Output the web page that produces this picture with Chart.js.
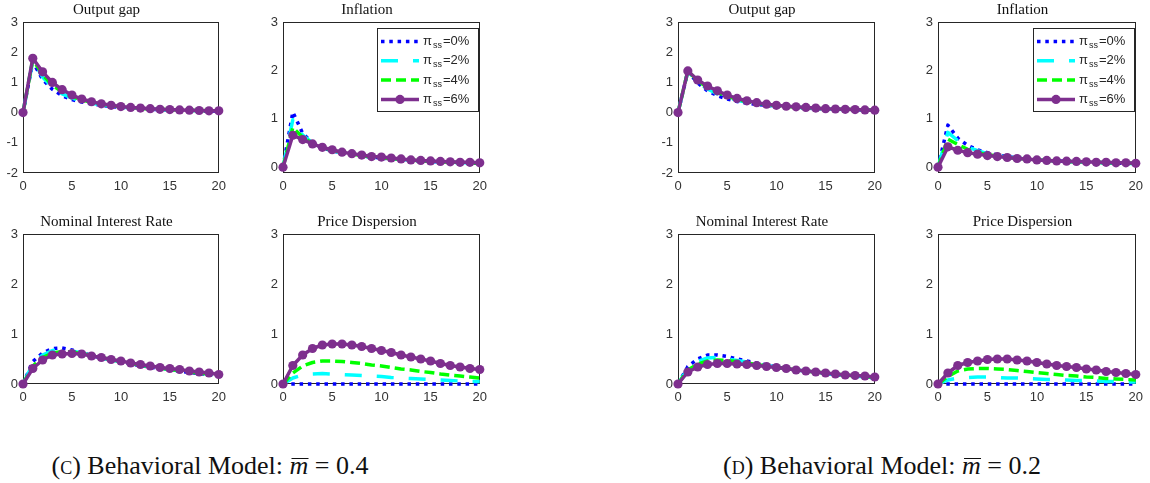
<!DOCTYPE html>
<html><head><meta charset="utf-8">
<script src="https://cdn.jsdelivr.net/npm/chart.js@4.4.0/dist/chart.umd.min.js"></script>
<style>
html,body{margin:0;padding:0;background:#fff}
body{width:1150px;height:483px;position:relative;overflow:hidden}
canvas{position:absolute}
.cap{position:absolute;font-family:"Liberation Serif","Times New Roman",serif;font-size:26px;line-height:30px;color:#111;white-space:nowrap;transform:translateX(-50%)}
.sc{font-variant:small-caps}
.mb{position:relative;font-style:italic}
.mb::before{content:'';position:absolute;left:2px;right:0;top:7px;border-top:1.5px solid #111}
</style></head><body>
<div class="cap" style="left:210px;top:451px">(<span class="sc">c</span>) Behavioral Model: <span class="mb">m</span> = 0.4</div>
<div class="cap" style="left:882px;top:451px">(<span class="sc">d</span>) Behavioral Model: <span class="mb">m</span> = 0.2</div>
<script>
// horizon and ticks
const xs=[0,1,2,3,4,5,6,7,8,9,10,11,12,13,14,15,16,17,18,19,20];
const xTicks=[0,5,10,15,20];
const yTicksOut=[-2,-1,0,1,2,3];
const yTicks=[0,1,2,3];
const rates=['0%','2%','4%','6%'];
const titles=['Output gap','Inflation','Nominal Interest Rate','Price Dispersion'];

// (C) m = 0.4
const outC0=[0,1.68,1.10,0.77,0.56,0.43,0.35,0.29,0.24,0.20,0.17,0.15,0.13,0.11,0.10,0.09,0.08,0.07,0.06,0.05,0.05];
const outC2=[0,1.72,1.18,0.84,0.62,0.48,0.38,0.31,0.26,0.21,0.18,0.16,0.14,0.12,0.10,0.09,0.08,0.07,0.06,0.05,0.05];
const outC4=[0,1.76,1.26,0.91,0.68,0.53,0.42,0.34,0.28,0.23,0.19,0.17,0.14,0.12,0.11,0.10,0.09,0.08,0.07,0.06,0.05];
const outC6=[0,1.80,1.35,1.00,0.76,0.58,0.45,0.36,0.29,0.24,0.20,0.17,0.15,0.13,0.11,0.10,0.09,0.08,0.07,0.06,0.06];
const infC0=[0,1.14,0.70,0.50,0.40,0.34,0.29,0.26,0.23,0.21,0.19,0.17,0.15,0.14,0.13,0.12,0.11,0.10,0.09,0.08,0.08];
const infC2=[0,0.98,0.66,0.50,0.40,0.34,0.30,0.26,0.23,0.21,0.19,0.17,0.16,0.14,0.13,0.12,0.11,0.10,0.09,0.09,0.08];
const infC4=[0,0.82,0.62,0.49,0.41,0.35,0.30,0.27,0.24,0.21,0.19,0.18,0.16,0.15,0.13,0.12,0.11,0.10,0.10,0.09,0.08];
const infC6=[0,0.66,0.57,0.48,0.41,0.36,0.31,0.28,0.25,0.22,0.21,0.19,0.17,0.15,0.14,0.13,0.12,0.11,0.10,0.10,0.09];
const nomC0=[0,0.45,0.62,0.71,0.72,0.68,0.63,0.57,0.52,0.48,0.44,0.40,0.37,0.34,0.31,0.28,0.26,0.23,0.21,0.19,0.17];
const nomC2=[0,0.40,0.58,0.67,0.68,0.66,0.62,0.57,0.52,0.48,0.44,0.41,0.38,0.34,0.31,0.29,0.26,0.24,0.22,0.20,0.17];
const nomC4=[0,0.36,0.53,0.62,0.65,0.64,0.61,0.57,0.53,0.49,0.45,0.41,0.38,0.35,0.32,0.29,0.27,0.24,0.22,0.20,0.18];
const nomC6=[0,0.31,0.48,0.58,0.60,0.61,0.60,0.56,0.53,0.49,0.46,0.42,0.39,0.36,0.33,0.31,0.29,0.26,0.24,0.22,0.19];
const pdC0=[0,0,0,0,0,0,0,0,0,0,0,0,0,0,0,0,0,0,0,0,0];
const pdC2=[0,0.12,0.18,0.20,0.21,0.20,0.19,0.18,0.17,0.16,0.15,0.13,0.12,0.11,0.10,0.09,0.08,0.07,0.06,0.05,0.05];
const pdC4=[0,0.22,0.36,0.43,0.46,0.46,0.45,0.43,0.41,0.38,0.36,0.33,0.30,0.28,0.25,0.23,0.20,0.18,0.16,0.14,0.12];
const pdC6=[0,0.37,0.58,0.71,0.78,0.80,0.80,0.78,0.75,0.71,0.67,0.63,0.58,0.54,0.50,0.46,0.41,0.37,0.34,0.31,0.29];

// (D) m = 0.2
const outD0=[0,1.36,0.98,0.72,0.56,0.45,0.37,0.31,0.27,0.24,0.21,0.19,0.17,0.15,0.13,0.12,0.11,0.10,0.09,0.08,0.07];
const outD2=[0,1.37,1.02,0.78,0.62,0.50,0.41,0.34,0.29,0.25,0.22,0.20,0.18,0.16,0.14,0.12,0.11,0.10,0.09,0.08,0.08];
const outD4=[0,1.38,1.05,0.83,0.67,0.54,0.44,0.37,0.31,0.27,0.23,0.21,0.18,0.16,0.14,0.13,0.12,0.11,0.10,0.09,0.08];
const outD6=[0,1.38,1.08,0.88,0.72,0.58,0.47,0.39,0.33,0.28,0.24,0.21,0.19,0.17,0.15,0.13,0.12,0.11,0.10,0.09,0.08];
const infD0=[0,0.87,0.60,0.45,0.36,0.30,0.25,0.22,0.19,0.17,0.15,0.14,0.13,0.12,0.11,0.10,0.09,0.09,0.08,0.08,0.07];
const infD2=[0,0.72,0.55,0.42,0.34,0.28,0.24,0.21,0.19,0.17,0.15,0.14,0.13,0.12,0.11,0.10,0.10,0.09,0.08,0.08,0.07];
const infD4=[0,0.58,0.47,0.37,0.30,0.26,0.23,0.20,0.18,0.17,0.15,0.14,0.13,0.12,0.11,0.11,0.10,0.09,0.09,0.08,0.08];
const infD6=[0,0.42,0.35,0.30,0.27,0.24,0.22,0.20,0.18,0.17,0.15,0.14,0.13,0.125,0.12,0.11,0.10,0.10,0.09,0.09,0.08];
const nomD0=[0,0.35,0.50,0.58,0.58,0.55,0.50,0.46,0.42,0.38,0.34,0.31,0.28,0.26,0.24,0.21,0.19,0.17,0.15,0.14,0.12];
const nomD2=[0,0.31,0.45,0.52,0.53,0.50,0.47,0.44,0.40,0.37,0.34,0.31,0.28,0.26,0.24,0.21,0.19,0.18,0.16,0.14,0.13];
const nomD4=[0,0.28,0.40,0.46,0.48,0.47,0.45,0.42,0.39,0.36,0.33,0.31,0.28,0.26,0.24,0.22,0.20,0.18,0.16,0.15,0.13];
const nomD6=[0,0.24,0.34,0.39,0.41,0.41,0.40,0.39,0.37,0.35,0.33,0.31,0.28,0.26,0.24,0.22,0.20,0.18,0.17,0.16,0.14];
const pdD0=[0,0,0,0,0,0,0,0,0,0,0,0,0,0,0,0,0,0,0,0,0];
const pdD2=[0,0.08,0.12,0.13,0.14,0.14,0.13,0.12,0.12,0.11,0.10,0.09,0.09,0.08,0.07,0.07,0.06,0.05,0.05,0.04,0.04];
const pdD4=[0,0.15,0.26,0.30,0.31,0.31,0.30,0.29,0.27,0.25,0.23,0.21,0.19,0.17,0.16,0.14,0.13,0.11,0.10,0.09,0.08];
const pdD6=[0,0.22,0.37,0.43,0.46,0.49,0.50,0.50,0.48,0.46,0.43,0.40,0.37,0.35,0.33,0.30,0.28,0.25,0.23,0.21,0.19];

// styles
const COL=['#0000ff','#00ffff','#00ff00','#7e2f8e'];
const DASH=[[3.5,4.8],[17,15],[10,5],[]];
const LW=3.5, PR=4.6;
const AX='#262626', TK='#333333';
const YW=30, XH=25, RP=12, TH=23;
const LEG_W=101, LEG_H=83;

const panels=[
 {L:23,T:22,W:197,H:151,t:0,ymin:-2,yt:yTicksOut,s:[outC0,outC2,outC4,outC6]},
 {L:283,T:22,W:198,H:151,t:1,ymin:-0.12,yt:yTicks,s:[infC0,infC2,infC4,infC6],leg:true},
 {L:23,T:234,W:197,H:150,t:2,ymin:0,yt:yTicks,s:[nomC0,nomC2,nomC4,nomC6]},
 {L:283,T:234,W:198,H:150,t:3,ymin:0,yt:yTicks,s:[pdC0,pdC2,pdC4,pdC6]},
 {L:678,T:22,W:198,H:151,t:0,ymin:-2,yt:yTicksOut,s:[outD0,outD2,outD4,outD6]},
 {L:938,T:22,W:199,H:151,t:1,ymin:-0.12,yt:yTicks,s:[infD0,infD2,infD4,infD6],leg:true},
 {L:678,T:234,W:198,H:150,t:2,ymin:0,yt:yTicks,s:[nomD0,nomD2,nomD4,nomD6]},
 {L:938,T:234,W:199,H:150,t:3,ymin:0,yt:yTicks,s:[pdD0,pdD2,pdD4,pdD6]}
];

// axes box under the data (like MATLAB)
const boxPlugin={id:'axbox',beforeDatasetsDraw(c){
 const a=c.chartArea,x=c.ctx;
 x.save();x.strokeStyle=AX;x.lineWidth=1;
 x.strokeRect(Math.round(a.left)+0.5,Math.round(a.top)+0.5,Math.round(a.width)-1,Math.round(a.height)-1);
 x.restore();
}};

// legend with pi_ss subscript
const legPlugin={id:'pilegend',afterDatasetsDraw(c,args,o){
 if(!o.show)return;
 const a=c.chartArea,x=c.ctx;
 const bx=Math.round(a.right-2-LEG_W),by=Math.round(a.top+6);
 x.save();
 x.fillStyle='#fff';x.fillRect(bx,by,LEG_W,LEG_H);
 x.strokeStyle=AX;x.lineWidth=1;x.strokeRect(bx+0.5,by+0.5,LEG_W,LEG_H);
 c.data.datasets.forEach(function(d,i){
  var y=by+13.5+i*19.3,x0=bx+4,x1=bx+42;
  x.strokeStyle=d.borderColor;x.lineWidth=d.borderWidth;x.setLineDash(d.borderDash||[]);
  x.lineCap='butt';x.beginPath();x.moveTo(x0,y);x.lineTo(x1,y);x.stroke();x.setLineDash([]);
  if(d.pointRadius>0){x.fillStyle=d.borderColor;x.beginPath();x.arc((x0+x1)/2,y,d.pointRadius,0,Math.PI*2);x.fill()}
  x.fillStyle=AX;x.textBaseline='middle';x.textAlign='left';
  var tx=bx+46;
  x.font='13px "Liberation Sans", Arial, sans-serif';x.fillText('π',tx,y);tx+=x.measureText('π').width+1;
  x.font='9px "Liberation Sans", Arial, sans-serif';x.fillText('ss',tx,y+4);tx+=x.measureText('ss').width+1;
  x.font='13px "Liberation Sans", Arial, sans-serif';x.fillText('='+d.label,tx,y);
 });
 x.restore();
}};

function mk(p){
 var cv=document.createElement('canvas');
 var w=YW+p.W+RP,h=TH+p.H+XH;
 cv.width=w;cv.height=h;cv.style.width=w+'px';cv.style.height=h+'px';
 cv.style.left=(p.L-YW)+'px';cv.style.top=(p.T-TH)+'px';
 document.body.appendChild(cv);
 var ds=p.s.map(function(v,i){return{
  label:rates[i],data:xs.map(function(xv,j){return{x:xv,y:v[j]}}),
  borderColor:COL[i],backgroundColor:COL[i],borderWidth:LW,borderDash:DASH[i],borderCapStyle:'butt',borderJoinStyle:'round',
  pointRadius:i===3?PR:0,pointBackgroundColor:COL[i],pointBorderWidth:0,pointHoverRadius:0,
  tension:0,fill:false,clip:false,order:3-i}});
 var tf={family:'"Liberation Sans", Arial, sans-serif',size:13};
 new Chart(cv.getContext('2d'),{type:'line',data:{datasets:ds},
  options:{responsive:false,animation:false,events:[],devicePixelRatio:1,
   layout:{padding:{left:0,right:RP,top:0,bottom:0}},
   plugins:{legend:{display:false},tooltip:{enabled:false},
    title:{display:true,text:titles[p.t],color:'#111',font:{family:'"Liberation Serif", serif',size:15,weight:'normal',lineHeight:1},padding:{top:4,bottom:4}},
    pilegend:{show:!!p.leg}},
   scales:{
    x:{type:'linear',min:0,max:20,grid:{display:false,drawTicks:false},border:{display:false},
     afterBuildTicks:function(s){s.ticks=xTicks.map(function(v){return{value:v}})},
     afterFit:function(s){s.height=XH},
     ticks:{color:TK,font:tf,padding:6,maxRotation:0,autoSkip:false,callback:function(v){return String(v)}}},
    y:{type:'linear',min:p.ymin,max:3,grid:{display:false,drawTicks:false},border:{display:false},
     afterBuildTicks:function(s){s.ticks=p.yt.map(function(v){return{value:v}})},
     afterFit:function(s){s.width=YW},
     ticks:{color:TK,font:tf,padding:5,autoSkip:false,callback:function(v){return String(v)}}}
   }},
  plugins:[boxPlugin,legPlugin]});
}
panels.forEach(mk);
</script>
</body></html>
